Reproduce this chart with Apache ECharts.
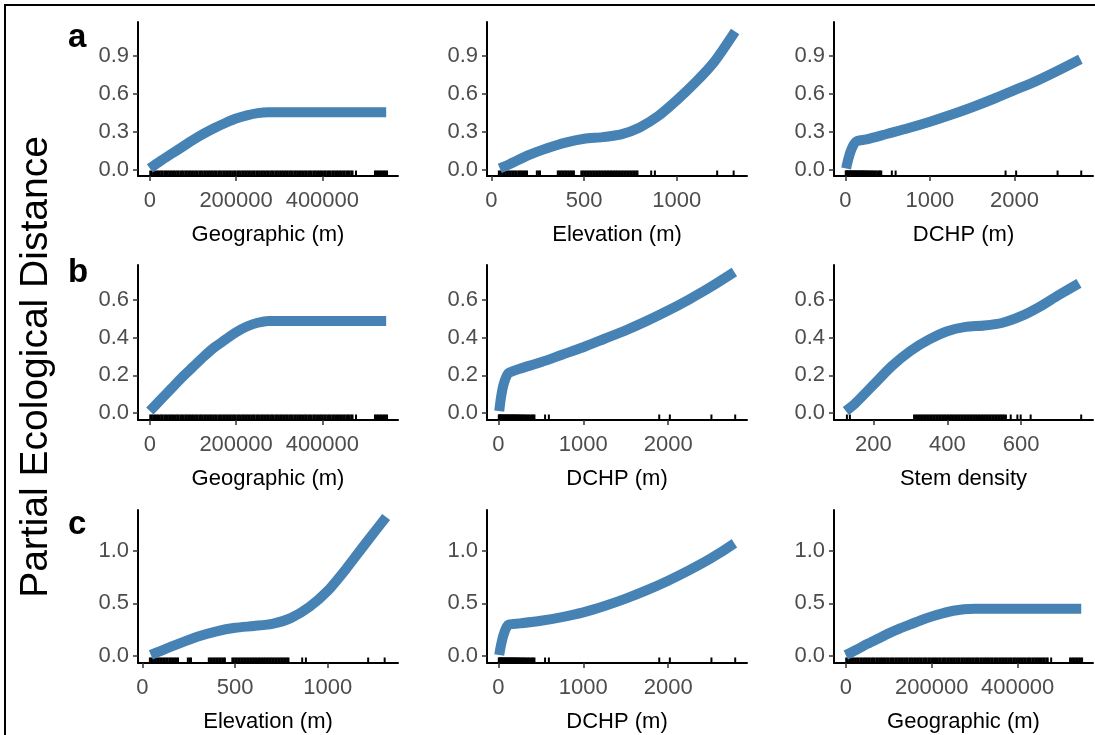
<!DOCTYPE html>
<html>
<head>
<meta charset="utf-8">
<script src="https://cdn.jsdelivr.net/npm/echarts@6/dist/echarts.min.js"></script>
<style>
  html, body { margin: 0; padding: 0; background: #fff; }
  #chart { width: 1095px; height: 735px; }
</style>
</head>
<body>
<div id="chart"></div>
<script>
// ---- fitted GDM I-spline curves (predictor value -> partial ecological distance) ----
const geoX  = [0, 25000, 50000, 75000, 100000, 125000, 150000, 175000, 200000, 225000, 250000, 275000, 300000, 400000, 548000];
const geoA  = [0.01, 0.07, 0.125, 0.18, 0.235, 0.285, 0.33, 0.37, 0.405, 0.43, 0.448, 0.455, 0.455, 0.455, 0.455];
const geoB  = [0.01, 0.07, 0.13, 0.19, 0.245, 0.30, 0.35, 0.39, 0.43, 0.46, 0.48, 0.49, 0.49, 0.49, 0.49];
const geoC  = [0.01, 0.06, 0.115, 0.165, 0.215, 0.26, 0.30, 0.34, 0.375, 0.405, 0.43, 0.445, 0.45, 0.45, 0.45];

const elevX = [45, 100, 200, 300, 400, 500, 600, 700, 800, 900, 1000, 1100, 1200, 1315];
const elevA = [0.01, 0.045, 0.115, 0.17, 0.215, 0.245, 0.258, 0.28, 0.335, 0.425, 0.55, 0.69, 0.85, 1.095];
const elevC = [0.01, 0.05, 0.12, 0.185, 0.235, 0.268, 0.285, 0.305, 0.36, 0.465, 0.62, 0.83, 1.06, 1.32];

const dchpX = [10, 30, 60, 100, 130, 250, 500, 750, 1000, 1250, 1500, 1750, 2000, 2250, 2500, 2780];
const dchpA = [0.01, 0.07, 0.14, 0.20, 0.225, 0.24, 0.285, 0.33, 0.38, 0.435, 0.495, 0.56, 0.63, 0.70, 0.78, 0.875];
const dchpB = [0.01, 0.08, 0.15, 0.20, 0.215, 0.235, 0.27, 0.31, 0.35, 0.395, 0.44, 0.49, 0.545, 0.605, 0.67, 0.75];
const dchpC = [0.01, 0.10, 0.20, 0.28, 0.30, 0.31, 0.335, 0.37, 0.415, 0.475, 0.545, 0.625, 0.715, 0.815, 0.925, 1.07];

const stemX = [125, 150, 200, 250, 300, 350, 400, 450, 500, 550, 600, 650, 700, 757];
const stemB = [0.01, 0.05, 0.15, 0.25, 0.33, 0.39, 0.435, 0.458, 0.465, 0.48, 0.515, 0.565, 0.625, 0.69];

// ---- observed site values (rug) ----
const geoRug = [1000, 4500, 8000, 12000, 15500, 19000, 23000, 26500, 30000, 34000, 37500, 41600, 45000, 49000, 52500,
  56000, 60000, 63500, 67000, 71000, 74500, 78000, 82000, 85500, 89000, 93000, 96500, 100000, 104000, 107500, 111000,
  115000, 118500, 122000, 126000, 129500, 133000, 137000, 140500, 144000, 148000, 151500, 155000, 159000, 162500, 166000,
  170000, 173500, 177000, 181000, 184500, 188000, 192000, 195500, 199000, 203000, 206500, 210000, 214000, 217500, 221000,
  225000, 228500, 232000, 236000, 239500, 243000, 247000, 250500, 254000, 258000, 261500, 265000, 269000, 272500, 276000,
  280000, 283500, 287000, 291000, 294500, 298000, 302000, 305500, 309000, 313000, 316500, 320000, 324000, 327500, 331000,
  335000, 338500, 342000, 346000, 349500, 353000, 357000, 360500, 364000, 368000, 371500, 375000, 379000, 382500, 386000,
  390000, 393500, 397000, 401000, 404500, 408000, 412000, 415500, 419000, 423000, 426500, 430000, 434000, 437500, 441000,
  445000, 448500, 452000, 456000, 459500, 463000, 467000, 470000, 478000,
  522000, 525500, 529000, 532500, 536000, 539500, 543000, 546500, 550000];
const elevRug = [40, 48, 56, 64, 72, 80, 88, 96, 104, 112, 120, 128, 136, 145, 152, 160, 168, 176, 184, 192, 245, 254, 262,
  358, 366, 374, 382, 390, 398, 406, 414, 422, 430, 438, 445, 485, 493, 501, 509, 517, 525, 533, 541, 549, 557, 565, 573,
  581, 589, 597, 605, 613, 621, 629, 637, 645, 653, 661, 669, 677, 685, 693, 701, 709, 717, 725, 733, 741, 749, 757, 765,
  773, 781, 788, 862, 882, 1218, 1307];
const dchpRug = [5, 12, 20, 28, 35, 45, 52, 60, 70, 78, 88, 95, 105, 115, 122, 132, 140, 150, 160, 170, 178, 188, 198,
  208, 218, 228, 240, 250, 262, 275, 288, 300, 315, 330, 345, 360, 378, 395, 410, 425, 550, 595, 1895, 2020, 2510, 2790];
const stemRug = [128, 136, 310, 314, 318, 322, 326, 330, 334, 338, 342, 346, 350, 354, 358, 362, 366, 370, 374, 378, 382,
  386, 390, 394, 398, 402, 406, 410, 414, 418, 422, 426, 430, 434, 438, 442, 446, 450, 454, 458, 462, 466, 470, 474, 478,
  482, 486, 490, 494, 498, 502, 506, 510, 514, 518, 522, 526, 530, 534, 538, 542, 546, 550, 554, 559, 572, 590, 599, 626, 763];

// ---- tick labels ----
const geoTicks  = [0, 200000, 400000];
const elevTicks = [0, 500, 1000];
const dchpTicks = [0, 1000, 2000];
const stemTicks = [200, 400, 600];
const yTicksA = [0, 0.3, 0.6, 0.9];
const yTicksB = [0, 0.2, 0.4, 0.6];
const yTicksC = [0, 0.5, 1.0];

const rowLetters = ['a', 'b', 'c'];
const yTitle = 'Partial Ecological Distance';

// ---- layout ----
const FONT = 'Liberation Sans, Arial, Helvetica, sans-serif';
const colLeft = [138, 487, 834];
const colWidth = [260, 260, 259];
const rowTop = [22, 265, 510];
const rowHeight = [154, 155, 153];
const letterTop = [21, 256, 508];
const rowY = [
  { min: -0.05, max: 1.17, ticks: yTicksA },
  { min: -0.0375, max: 0.7875, ticks: yTicksB },
  { min: -0.066, max: 1.386, ticks: yTicksC }
];
const xScales = {
  geo:  { min: -27400, max: 575400, ticks: geoTicks },
  elev: { min: -24, max: 1379, ticks: elevTicks },
  dchp: { min: -134, max: 2929, ticks: dchpTicks },
  stem: { min: 93, max: 795, ticks: stemTicks }
};

const panels = [
  { row: 0, col: 0, scale: 'geo',  x: geoX,  y: geoA,  rug: geoRug,  name: 'Geographic (m)' },
  { row: 0, col: 1, scale: 'elev', x: elevX, y: elevA, rug: elevRug, name: 'Elevation (m)' },
  { row: 0, col: 2, scale: 'dchp', x: dchpX, y: dchpA, rug: dchpRug, name: 'DCHP (m)' },
  { row: 1, col: 0, scale: 'geo',  x: geoX,  y: geoB,  rug: geoRug,  name: 'Geographic (m)' },
  { row: 1, col: 1, scale: 'dchp', x: dchpX, y: dchpB, rug: dchpRug, name: 'DCHP (m)' },
  { row: 1, col: 2, scale: 'stem', x: stemX, y: stemB, rug: stemRug, name: 'Stem density' },
  { row: 2, col: 0, scale: 'elev', x: elevX, y: elevC, rug: elevRug, name: 'Elevation (m)' },
  { row: 2, col: 1, scale: 'dchp', x: dchpX, y: dchpC, rug: dchpRug, name: 'DCHP (m)' },
  { row: 2, col: 2, scale: 'geo',  x: geoX,  y: geoC,  rug: geoRug,  name: 'Geographic (m)' }
];

const grid = [], xAxis = [], yAxis = [], series = [];
panels.forEach((p, i) => {
  const xs = xScales[p.scale];
  const ys = rowY[p.row];
  grid.push({
    left: colLeft[p.col], top: rowTop[p.row],
    width: colWidth[p.col], height: rowHeight[p.row]
  });
  xAxis.push({
    type: 'value', gridIndex: i, min: xs.min, max: xs.max,
    name: p.name, nameLocation: 'middle', nameGap: 48,
    nameTextStyle: { fontSize: 22, color: '#000', fontFamily: FONT },
    splitLine: { show: false },
    axisLine: { onZero: false, lineStyle: { color: '#000', width: 2 } },
    axisTick: { customValues: xs.ticks, length: 5, lineStyle: { color: '#333', width: 1.5 } },
    axisLabel: {
      customValues: xs.ticks, margin: 14, fontSize: 22, color: '#4D4D4D', fontFamily: FONT,
      formatter: v => String(v)
    }
  });
  yAxis.push({
    type: 'value', gridIndex: i, min: ys.min, max: ys.max,
    splitLine: { show: false },
    axisLine: { onZero: false, lineStyle: { color: '#000', width: 2 } },
    axisTick: { customValues: ys.ticks, length: 5, lineStyle: { color: '#333', width: 1.5 } },
    axisLabel: {
      customValues: ys.ticks, margin: 9, fontSize: 22, color: '#4D4D4D', fontFamily: FONT,
      formatter: v => v.toFixed(1)
    }
  });
  // rug marks along the bottom of each panel
  series.push({
    type: 'custom', xAxisIndex: i, yAxisIndex: i, z: 1, silent: true,
    data: p.rug.map(v => [v, ys.min]),
    renderItem: (params, api) => {
      const pt = api.coord([api.value(0), api.value(1)]);
      return {
        type: 'line',
        shape: { x1: pt[0], y1: pt[1], x2: pt[0], y2: pt[1] - 5.5 },
        style: { stroke: '#000', lineWidth: 2 }
      };
    }
  });
  // fitted curve
  series.push({
    type: 'line', xAxisIndex: i, yAxisIndex: i, z: 2, silent: true,
    data: p.x.map((v, k) => [v, p.y[k]]),
    showSymbol: false, smooth: 0.25,
    lineStyle: { color: '#4682B4', width: 10, cap: 'butt', join: 'round' }
  });
});

const graphic = [
  // frame edges
  { type: 'line', shape: { x1: 4, y1: 5, x2: 1095, y2: 5 }, style: { stroke: '#000', lineWidth: 2 } },
  { type: 'line', shape: { x1: 5, y1: 4, x2: 5, y2: 735 }, style: { stroke: '#000', lineWidth: 2 } },
  // shared y title
  {
    type: 'text', x: 36, y: 367, rotation: Math.PI / 2,
    style: {
      text: yTitle, fontSize: 39, fontFamily: FONT, fill: '#000',
      textAlign: 'center', textVerticalAlign: 'middle'
    }
  }
];
rowLetters.forEach((t, r) => {
  graphic.push({
    type: 'text', x: 68, y: letterTop[r],
    style: { text: t, fontSize: 33, fontWeight: 'bold', fontFamily: FONT, fill: '#000' }
  });
});

const chart = echarts.init(document.getElementById('chart'), null, { renderer: 'canvas' });
chart.setOption({
  animation: false,
  backgroundColor: '#fff',
  grid, xAxis, yAxis, series, graphic
});
</script>
</body>
</html>
